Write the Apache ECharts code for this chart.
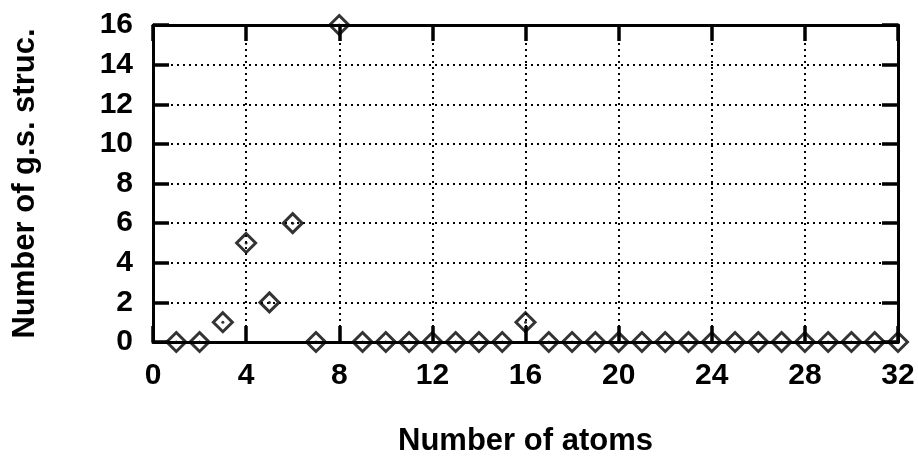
<!DOCTYPE html>
<html><head><meta charset="utf-8">
<script src="https://cdn.jsdelivr.net/npm/echarts@6/dist/echarts.min.js"></script>
<style>html,body{margin:0;padding:0;background:#fff}#c{width:918px;height:458px}</style>
</head><body><div id="c"></div>
<script>
const atoms = [1,2,3,4,5,6,7,8,9,10,11,12,13,14,15,16,17,18,19,20,21,22,23,24,25,26,27,28,29,30,31,32];
const gsCount = [0,0,1,5,2,6,0,16,0,0,0,0,0,0,0,1,0,0,0,0,0,0,0,0,0,0,0,0,0,0,0,0];
const xTitle = 'Number of atoms';
const yTitle = 'Number of g.s. struc.';

const pts = atoms.map((a,i)=>[a,gsCount[i]]);
const FONT = '"Liberation Sans", Arial, sans-serif';
function common(){
  return {
    axisLine:{show:true,onZero:false,lineStyle:{color:'#000',width:3}},
    axisTick:{show:true,inside:true,length:16,lineStyle:{color:'#000',width:3.5}}
  };
}
const gridS = {color:'#000',type:[2,4],width:2};
const chart = echarts.init(document.getElementById('c'));
chart.setOption({
  animation:false,
  grid:{left:153,right:20,top:25,bottom:116,containLabel:false,outerBoundsMode:'none'},
  xAxis:[
    Object.assign({type:'value',min:0,max:32,interval:4,position:'bottom',
      name:xTitle,nameLocation:'middle',nameGap:84,
      nameTextStyle:{fontFamily:FONT,fontWeight:'bold',fontSize:31,color:'#000'},
      axisLabel:{fontFamily:FONT,fontWeight:'bold',fontSize:30,color:'#000',margin:19},
      splitLine:{show:true,lineStyle:gridS}},common()),
    Object.assign({type:'value',min:0,max:32,interval:4,position:'top',
      axisLabel:{show:false},splitLine:{show:false}},common())
  ],
  yAxis:[
    Object.assign({type:'value',min:0,max:16,interval:2,position:'left',
      name:yTitle,nameLocation:'middle',nameGap:112,nameRotate:90,
      nameTextStyle:{fontFamily:FONT,fontWeight:'bold',fontSize:31,color:'#000'},
      axisLabel:{fontFamily:FONT,fontWeight:'bold',fontSize:30,color:'#000',margin:20},
      splitLine:{show:true,lineStyle:gridS}},common()),
    Object.assign({type:'value',min:0,max:16,interval:2,position:'right',
      axisLabel:{show:false},splitLine:{show:false}},common())
  ],
  series:[
    {type:'scatter',data:pts,symbol:'diamond',symbolSize:[19,19],clip:false,
     itemStyle:{color:'rgba(0,0,0,0)',borderColor:'#000',borderWidth:3},z:5},
    {type:'scatter',data:pts,symbol:'circle',symbolSize:3,clip:false,
     itemStyle:{color:'#000'},z:6}
  ]
});
</script></body></html>
